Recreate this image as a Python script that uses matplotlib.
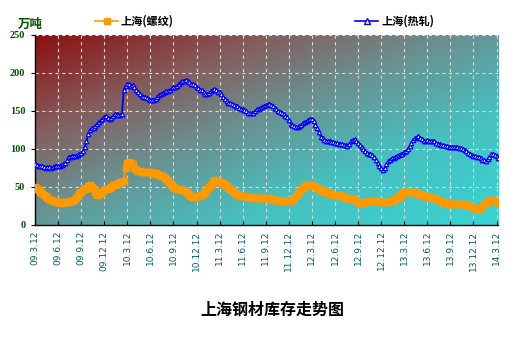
import numpy as np
import matplotlib
matplotlib.use("Agg")
import matplotlib.pyplot as plt
from matplotlib.colors import LinearSegmentedColormap
from matplotlib.lines import Line2D

plt.rcParams['font.family'] = ['Noto Sans CJK SC', 'DejaVu Sans']

# ---------------- data (weekly, 万吨) ----------------
tick_labels = ["09.3.12", "09.6.12", "09.9.12", "09.12.12", "10.3.12", "10.6.12",
               "10.9.12", "10.12.12", "11.3.12", "11.6.12", "11.9.12", "11.12.12",
               "12.3.12", "12.6.12", "12.9.12", "12.12.12", "13.3.12", "13.6.12",
               "13.9.12", "13.12.12", "14.3.12"]

hot_rolled = [
    80, 79, 78, 77, 77, 76, 75, 76, 76, 75, 76, 77, 78,
    77, 78, 79, 80, 81, 85, 90, 90, 91, 91, 91, 92, 94,
    95, 97, 103, 110, 120, 125, 127, 128, 130, 133, 136, 138, 140,
    142, 143, 141, 140, 141, 143, 146, 146, 145, 145, 146, 178, 183,
    186, 185, 183, 184, 182, 178, 175, 172, 170, 169, 168, 167, 166,
    165, 165, 164, 166, 169, 171, 172, 174, 175, 176, 176, 178, 180,
    181, 182, 183, 186, 188, 190, 189, 191, 190, 188, 186, 185, 184,
    182, 180, 178, 177, 175, 173, 172, 174, 176, 178, 179, 177, 175,
    175, 173, 168, 166, 163, 161, 160, 159, 158, 157, 156, 154, 152,
    152, 151, 150, 148, 147, 147, 148, 150, 152, 153, 154, 155, 157,
    158, 159, 159, 158, 156, 154, 152, 150, 149, 147, 146, 144, 142,
    138, 133, 131, 130, 129, 129, 130, 132, 134, 136, 137, 138, 140,
    140, 137, 132, 127, 122, 116, 114, 112, 111, 110, 110, 109, 109,
    108, 108, 107, 107, 106, 105, 105, 104, 106, 110, 112, 113, 111,
    108, 105, 103, 100, 97, 95, 94, 93, 92, 90, 86, 82, 78,
    75, 73, 75, 80, 84, 86, 88, 88, 90, 91, 92, 93, 94,
    96, 97, 100, 104, 108, 112, 114, 116, 117, 115, 113, 111, 111,
    112, 111, 110, 110, 110, 108, 107, 106, 105, 105, 104, 104, 103,
    103, 103, 103, 102, 102, 101, 101, 100, 99, 97, 95, 93, 92,
    91, 91, 90, 89, 88, 86, 85, 84, 87, 90, 93, 93, 92,
    91, 88]

rebar = [
    50, 48, 46, 44, 42, 40, 38, 36, 34, 33, 32, 31, 30,
    30, 29, 29, 30, 30, 30, 30, 31, 32, 33, 35, 38, 42,
    44, 46, 47, 49, 51, 52, 50, 47, 44, 40, 41, 42, 44,
    46, 47, 48, 49, 50, 52, 53, 54, 55, 56, 57, 58, 75,
    82, 83, 82, 80, 75, 72, 71, 71, 70, 70, 70, 70, 70,
    70, 69, 69, 68, 67, 66, 65, 64, 62, 60, 58, 55, 52,
    50, 49, 48, 47, 46, 46, 46, 44, 42, 40, 38, 37, 37,
    37, 38, 39, 40, 42, 44, 47, 50, 53, 56, 59, 59, 58,
    57, 56, 55, 53, 51, 49, 48, 46, 44, 42, 40, 39, 38,
    38, 38, 37, 37, 37, 37, 36, 36, 35, 35, 35, 35, 35,
    35, 35, 34, 34, 34, 33, 33, 32, 32, 32, 32, 31, 31,
    31, 32, 33, 35, 38, 41, 44, 47, 49, 51, 52, 52, 53,
    52, 51, 50, 49, 48, 46, 45, 44, 43, 42, 42, 41, 40,
    40, 39, 39, 38, 38, 37, 36, 36, 35, 34, 34, 33, 31,
    30, 29, 29, 29, 30, 30, 31, 31, 31, 32, 31, 31, 30,
    30, 30, 30, 30, 30, 31, 32, 33, 34, 35, 37, 40, 43,
    43, 44, 44, 44, 44, 43, 43, 42, 41, 40, 40, 39, 38,
    37, 37, 36, 35, 35, 34, 33, 32, 31, 30, 29, 29, 28,
    28, 28, 28, 28, 28, 28, 27, 27, 27, 26, 26, 25, 24,
    23, 22, 21, 21, 22, 24, 27, 29, 31, 33, 33, 33, 32,
    31, 29]

y_ticks = [0, 50, 100, 150, 200, 250]

# ---------------- figure ----------------
N = len(hot_rolled)
x = np.arange(N)

fig = plt.figure(figsize=(5.15, 3.38), dpi=100)
ax = fig.add_axes([35 / 515, 1 - 225 / 338, 463.3 / 515, 190 / 338])

# diagonal gradient background (dark red -> grey -> cyan)
gx = np.linspace(0, 1, 400)
gy = np.linspace(0, 1, 200)
U, V = np.meshgrid(gx, gy)
T = (U + V) / 2
cmap = LinearSegmentedColormap.from_list("bg", [
    (0.0, (0.55, 0.06, 0.06)),
    (0.25, (0.52, 0.36, 0.36)),
    (0.45, (0.42, 0.56, 0.56)),
    (0.7, (0.28, 0.75, 0.75)),
    (1.0, (0.22, 0.83, 0.83))])
ax.imshow(T, cmap=cmap, extent=[0, N - 1, 0, 250], aspect="auto",
          origin="upper", zorder=0, interpolation="bilinear")

ax.plot(x, rebar, color="#FF9900", lw=1.5, marker="s", markersize=4.2,
        markerfacecolor="#FF9900", markeredgecolor="#FF9900", zorder=3)
ax.plot(x, hot_rolled, color="#0000FF", lw=1.3, marker="^", markersize=3.2,
        markerfacecolor="white", markeredgecolor="#0000FF", markeredgewidth=0.9,
        zorder=4)

ax.set_xlim(0, N - 1)
ax.set_ylim(0, 250)
ax.set_xticks(np.arange(0, 13 * len(tick_labels), 13))
ax.set_xticklabels(tick_labels, rotation=90, fontsize=6.5, color="#006060",
                   family=["DejaVu Sans"])
ax.set_yticks(y_ticks)
ax.set_yticklabels([str(v) for v in y_ticks], fontsize=7.5, color="#005500",
                   fontweight="bold", family=["Liberation Serif"])
ax.tick_params(axis="x", direction="in", length=3, pad=4, width=0.8)
ax.tick_params(axis="y", direction="out", length=3, pad=4, width=0.8)

ax.set_axisbelow(True)
ax.grid(True, color="#d9d9d9", linestyle=(0, (3, 3)), linewidth=0.8)
for s in ["top", "right"]:
    ax.spines[s].set_visible(False)
for s in ["left", "bottom"]:
    ax.spines[s].set_color("black")
    ax.spines[s].set_linewidth(1.0)

# unit label
fig.text(30 / 515, 1 - 24 / 338, "万吨", fontsize=9, fontweight="bold",
         color="#005500", ha="center", va="center")

# legend entries (manual, at top)
ly = 1 - 21 / 338
h1 = Line2D([95 / 515, 106.5 / 515, 118 / 515], [ly, ly, ly], transform=fig.transFigure,
            color="#FF9900", lw=1.2, marker="s", markersize=4, markevery=[1],
            markerfacecolor="#FF9900", markeredgecolor="#FF9900")
fig.add_artist(h1)
fig.text(121 / 515, ly, "上海(螺纹)", fontsize=8, fontweight="bold",
         color="black", ha="left", va="center")
h2 = Line2D([355 / 515, 366.5 / 515, 378 / 515], [ly, ly, ly], transform=fig.transFigure,
            color="#0000FF", lw=1.2, marker="^", markersize=4, markevery=[1],
            markerfacecolor="white", markeredgecolor="#0000FF")
fig.add_artist(h2)
fig.text(382 / 515, ly, "上海(热轧)", fontsize=8, fontweight="bold",
         color="black", ha="left", va="center")

# title at bottom
fig.text(272 / 515, 1 - 310 / 338, "上海钢材库存走势图", fontsize=11.5,
         fontweight="bold", color="black", ha="center", va="center")

fig.savefig("out.png", dpi=100, facecolor="white")
